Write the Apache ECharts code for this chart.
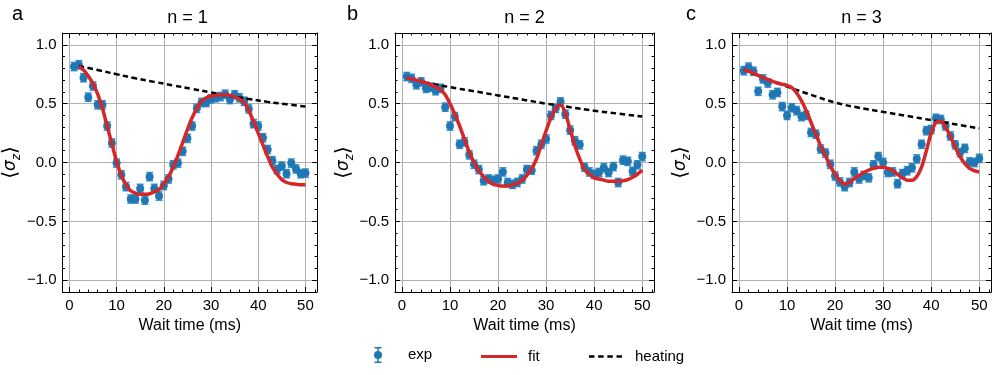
<!DOCTYPE html>
<html lang="en">
<head>
<meta charset="UTF-8">
<title>sigma_z vs wait time</title>
<script src="https://cdn.jsdelivr.net/npm/echarts@6/dist/echarts.min.js"></script>
</head>
<body style="margin:0">
<div id="main" style="width: 996px;height: 375px"></div>
<script>
    // wait times (ms) of the measured points
    var waitTime = [1, 2, 3, 4, 5, 6, 7, 8, 9, 10, 11, 12, 13, 14, 15, 16, 17, 18, 19, 20,
        21, 22, 23, 24, 25, 26, 27, 28, 29, 30, 31, 32, 33, 34, 35, 36, 37, 38, 39, 40,
        41, 42, 43, 44, 45, 46, 47, 48, 49, 50];

    var expA = [0.815, 0.83, 0.72, 0.555, 0.65, 0.49, 0.49, 0.31, 0.165, -0.005,
        -0.105, -0.205, -0.31, -0.31, -0.22, -0.32, -0.12, -0.22, -0.285, -0.195,
        -0.14, -0.02, -0.005, 0.095, 0.205, 0.31, 0.46, 0.51, 0.51, 0.54,
        0.55, 0.56, 0.58, 0.535, 0.575, 0.55, 0.52, 0.455, 0.33, 0.31,
        0.21, 0.11, 0.015, -0.06, -0.03, -0.095, -0.005, -0.055, -0.095, -0.09];
    var expB = [0.73, 0.715, 0.66, 0.685, 0.63, 0.64, 0.61, 0.63, 0.47, 0.31,
        0.39, 0.155, 0.175, 0.065, -0.015, -0.06, -0.155, -0.14, -0.15, -0.14,
        -0.08, -0.17, -0.185, -0.17, -0.14, -0.06, -0.065, 0.10, 0.155, 0.20,
        0.40, 0.46, 0.515, 0.41, 0.275, 0.185, 0.15, -0.04, -0.08, -0.10,
        -0.085, -0.045, -0.085, -0.035, -0.17, 0.02, 0.01, -0.075, -0.02, 0.05];
    var expC = [0.78, 0.81, 0.775, 0.605, 0.71, 0.675, 0.575, 0.595, 0.475, 0.40,
        0.465, 0.44, 0.39, 0.40, 0.255, 0.24, 0.115, 0.08, -0.015, -0.115,
        -0.165, -0.205, -0.17, -0.08, -0.14, -0.11, -0.13, -0.02, 0.05, 0.0,
        -0.085, -0.08, -0.18, -0.095, -0.07, -0.045, 0.03, 0.155, 0.27, 0.28,
        0.375, 0.365, 0.31, 0.225, 0.15, 0.085, 0.12, 0.005, 0.0, 0.035];
    var errBar = 0.035;   // half length of the error bars, same for all points

    // fit curves (x, y)
    var fitXA = [2, 3, 4, 5, 6, 7, 8, 9, 10, 11, 12, 13, 14, 15, 16, 17, 18, 19, 20,
        21, 22, 23, 24, 25, 26, 27, 28, 29, 30, 31, 32, 33, 34, 35, 36, 37, 38, 39, 40,
        41, 42, 43, 44, 45, 46, 47, 48, 49, 50];
    var fitA = [0.815, 0.785, 0.735, 0.67, 0.58, 0.46, 0.31, 0.16, 0.01, -0.11,
        -0.19, -0.24, -0.26, -0.27, -0.27, -0.265, -0.25, -0.23, -0.18, -0.12,
        -0.04, 0.06, 0.17, 0.28, 0.38, 0.46, 0.52, 0.55, 0.565, 0.57,
        0.575, 0.575, 0.57, 0.56, 0.54, 0.51, 0.44, 0.35, 0.25, 0.15,
        0.05, -0.04, -0.10, -0.145, -0.17, -0.18, -0.185, -0.19, -0.19];
    var fitB = [0.72, 0.71, 0.70, 0.69, 0.675, 0.66, 0.645, 0.62, 0.575, 0.50,
        0.41, 0.31, 0.20, 0.09, 0.0, -0.07, -0.12, -0.16, -0.185, -0.195,
        -0.20, -0.20, -0.19, -0.175, -0.15, -0.11, -0.05, 0.03, 0.15, 0.27,
        0.38, 0.46, 0.49, 0.42, 0.28, 0.14, 0.03, -0.06, -0.10, -0.13,
        -0.14, -0.15, -0.16, -0.16, -0.16, -0.155, -0.145, -0.125, -0.10, -0.065];
    var fitC = [0.79, 0.775, 0.76, 0.74, 0.72, 0.705, 0.69, 0.675, 0.665, 0.655,
        0.635, 0.59, 0.525, 0.44, 0.34, 0.24, 0.14, 0.057, -0.03, -0.10,
        -0.155, -0.185, -0.17, -0.135, -0.11, -0.085, -0.065, -0.05, -0.04, -0.04,
        -0.05, -0.07, -0.10, -0.13, -0.15, -0.15, -0.12, -0.04, 0.10, 0.25,
        0.34, 0.35, 0.30, 0.22, 0.13, 0.05, -0.01, -0.05, -0.07, -0.08];

    // heating curves (x, y)
    var heatXA = [2, 6, 10, 14, 18, 22, 26, 30, 34, 38, 42, 46, 50];
    var heatA = [0.82, 0.785, 0.75, 0.715, 0.685, 0.655, 0.625, 0.595, 0.565, 0.54, 0.515, 0.495, 0.475];
    var heatX = [1, 5, 10, 15, 20, 25, 30, 35, 40, 45, 50];
    var heatB = [0.72, 0.68, 0.64, 0.605, 0.57, 0.535, 0.50, 0.47, 0.44, 0.415, 0.39];
    var heatC = [0.79, 0.72, 0.645, 0.575, 0.51, 0.465, 0.43, 0.395, 0.36, 0.325, 0.29];

    var panels = [
        {letter: 'a', title: 'n = 1', left: 58, exp: expA, fitX: fitXA, fit: fitA, heatX: heatXA, heat: heatA},
        {letter: 'b', title: 'n = 2', left: 395, exp: expB, fitX: waitTime, fit: fitB, heatX: heatX, heat: heatB},
        {letter: 'c', title: 'n = 3', left: 732, exp: expC, fitX: waitTime, fit: fitC, heatX: heatX, heat: heatC}
    ];

    var font = 'Liberation Sans';
    var plotW = 259, plotH = 259, plotTop = 33;

    function pairs(xs, ys) {
        return xs.map(function (x, i) { return [x, ys[i]]; });
    }
    function minus(s) { return s.replace('-', '\u2212'); }

    function renderErrorBar(params, api) {
        var x = api.value(0), y = api.value(1), e = api.value(2);
        var top = api.coord([x, y + e]);
        var bot = api.coord([x, y - e]);
        var half = 3.5;
        var st = {stroke: '#3a8bcb', lineWidth: 1.5};
        return {
            type: 'group',
            children: [
                {type: 'line', shape: {x1: top[0], y1: top[1], x2: bot[0], y2: bot[1]}, style: st},
                {type: 'line', shape: {x1: top[0] - half, y1: top[1], x2: top[0] + half, y2: top[1]}, style: st},
                {type: 'line', shape: {x1: bot[0] - half, y1: bot[1], x2: bot[0] + half, y2: bot[1]}, style: st}
            ]
        };
    }

    var grids = [], xAxes = [], yAxes = [], series = [], graphics = [];
    var tickStyle = {show: true, inside: true, length: 5, lineStyle: {color: '#000', width: 1}};
    var minorStyle = {show: true, splitNumber: 5, length: 2.5, lineStyle: {color: '#000', width: 1}};
    var lineAxis = {show: true, onZero: false, lineStyle: {color: '#000', width: 1}};

    panels.forEach(function (p, i) {
        grids.push({left: p.left, top: plotTop, width: plotW, height: plotH});
        // bottom and top x axes
        xAxes.push({
            type: 'value', gridIndex: i, position: 'bottom', min: -1.45, max: 52.45,
            axisLine: lineAxis, axisTick: tickStyle, minorTick: minorStyle,
            axisLabel: {
                show: true, margin: 6, fontFamily: font, fontSize: 15, color: '#000',
                showMinLabel: false, showMaxLabel: false,
                formatter: function (v) { return Math.abs(v / 10 - Math.round(v / 10)) > 1e-6 ? '' : String(Math.round(v)); }
            },
            splitLine: {show: true, lineStyle: {color: '#b0b0b0', width: 1}},
            name: 'Wait time (ms)', nameLocation: 'middle', nameGap: 19,
            nameTextStyle: {fontFamily: font, fontSize: 16, color: '#000'}
        });
        xAxes.push({
            type: 'value', gridIndex: i, position: 'top', min: -1.45, max: 52.45,
            axisLine: lineAxis, axisTick: tickStyle, minorTick: minorStyle,
            axisLabel: {show: false}, splitLine: {show: false}
        });
        // left and right y axes
        yAxes.push({
            type: 'value', gridIndex: i, position: 'left', min: -1.1, max: 1.1,
            axisLine: lineAxis, axisTick: tickStyle, minorTick: minorStyle,
            axisLabel: {
                show: true, margin: 6, fontFamily: font, fontSize: 15, color: '#000',
                showMinLabel: false, showMaxLabel: false,
                formatter: function (v) { return Math.abs(v * 2 - Math.round(v * 2)) > 1e-6 ? '' : minus(v.toFixed(1)); }
            },
            splitLine: {show: true, lineStyle: {color: '#b0b0b0', width: 1}},
            name: '{b|\u27e8}{s|\u03c3}{z|z}{b|\u27e9}', nameLocation: 'middle', nameGap: 28,
            nameTextStyle: {
                color: '#000',
                rich: {
                    b: {fontFamily: 'DejaVu Sans', fontSize: 20, color: '#000', lineHeight: 24},
                    s: {fontFamily: 'DejaVu Sans', fontStyle: 'italic', fontSize: 17, color: '#000', lineHeight: 24},
                    z: {fontFamily: 'DejaVu Sans', fontStyle: 'italic', fontSize: 12, color: '#000', lineHeight: 15, verticalAlign: 'bottom'}
                }
            }
        });
        yAxes.push({
            type: 'value', gridIndex: i, position: 'right', min: -1.1, max: 1.1,
            axisLine: lineAxis, axisTick: tickStyle, minorTick: minorStyle,
            axisLabel: {show: false}, splitLine: {show: false}
        });

        var xi = 2 * i, yi = 2 * i;
        series.push({
            name: 'heating', type: 'line', xAxisIndex: xi, yAxisIndex: yi,
            data: pairs(p.heatX, p.heat), symbol: 'none', smooth: true,
            lineStyle: {color: '#000', width: 2.5, type: [5.5, 3.5]}, itemStyle: {color: '#000'}
        });
        series.push({
            name: 'fit', type: 'line', xAxisIndex: xi, yAxisIndex: yi,
            data: pairs(p.fitX, p.fit), symbol: 'none', smooth: 0.3,
            lineStyle: {color: '#d62728', width: 3.5}, itemStyle: {color: '#d62728'}
        });
        series.push({
            name: 'exp-err', type: 'custom', xAxisIndex: xi, yAxisIndex: yi,
            renderItem: renderErrorBar,
            data: waitTime.map(function (x, k) { return [x, p.exp[k], errBar]; })
        });
        series.push({
            name: 'exp', type: 'scatter', xAxisIndex: xi, yAxisIndex: yi,
            data: pairs(waitTime, p.exp), symbol: 'circle', symbolSize: 8,
            itemStyle: {color: '#1f77b4', opacity: 1}
        });

        graphics.push({
            type: 'text', x: p.left + plotW / 2, y: 18,
            style: {text: p.title, align: 'center', verticalAlign: 'middle', fill: '#000', font: '18px "Liberation Sans"'}
        });
        graphics.push({
            type: 'text', x: p.left - 46 - (i === 1 ? 2 : 0), y: 14,
            style: {text: p.letter, align: 'left', verticalAlign: 'middle', fill: '#000', font: '20px "Liberation Sans"'}
        });
    });

    var legendText = {fontFamily: font, fontSize: 15, color: '#000'};
    var expIcon = 'path://M0.5 0h7v1.5h-7z M3.25 0h1.5v16h-1.5z M0.5 14.5h7v1.5h-7z M0 8a4 4 0 1 1 8 0a4 4 0 1 1 -8 0z';
    var fitIcon = 'path://M0 0h36v3h-36z';
    var heatIcon = 'path://M0 0h5.5v2.5h-5.5z M9.2 0h5.5v2.5h-5.5z M18.4 0h5.5v2.5h-5.5z M27.6 0h5.5v2.5h-5.5z';

    var myChart = echarts.init(document.getElementById('main'));
    myChart.setOption({
        animation: false,
        backgroundColor: '#fff',
        grid: grids,
        xAxis: xAxes,
        yAxis: yAxes,
        legend: [
            {data: [{name: 'exp', icon: expIcon}], left: 374, top: 347, padding: 0, itemWidth: 8, itemHeight: 16,
                textStyle: Object.assign({padding: [0, 0, 0, 21]}, legendText), selectedMode: false},
            {data: [{name: 'fit', icon: fitIcon}], left: 481, top: 349, padding: 0, itemWidth: 36, itemHeight: 3,
                textStyle: Object.assign({padding: [0, 0, 0, 6]}, legendText), selectedMode: false},
            {data: [{name: 'heating', icon: heatIcon}], left: 589, top: 349, padding: 0, itemWidth: 33, itemHeight: 2.5,
                textStyle: Object.assign({padding: [0, 0, 0, 8]}, legendText), selectedMode: false}
        ],
        graphic: graphics,
        series: series
    });
</script>
</body>
</html>
